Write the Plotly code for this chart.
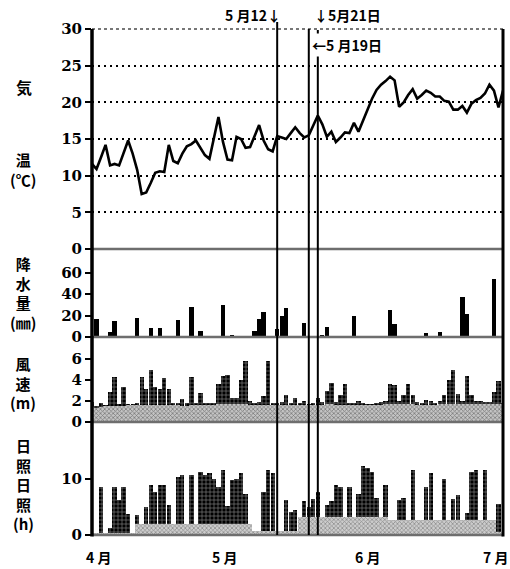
import plotly.graph_objects as go

# ---------------- data (day index: 0 = April 1, 91 = July 1) ----------------
days = list(range(92))

temp_c = [11.6, 10.9, 12.5, 14.2, 11.4, 11.6, 11.4, 13.0, 14.8, 13.0,
          10.8, 7.5, 7.7, 9.0, 10.4, 10.6, 10.5, 14.2, 12.0, 11.7,
          13.0, 14.0, 14.3, 14.8, 13.8, 12.8, 12.3, 15.0, 18.0, 14.6,
          12.2, 12.1, 15.3, 15.0, 13.8, 13.9, 15.5, 16.9, 14.8, 13.6,
          13.3, 15.4, 15.2, 15.0, 15.8, 16.6, 15.8, 15.2, 15.5, 16.8,
          18.2, 17.0, 15.3, 16.0, 14.6, 15.2, 15.9, 15.8, 17.2, 16.0,
          17.5, 19.2, 20.5, 21.7, 22.4, 22.9, 23.5, 23.0, 19.4, 20.0,
          21.0, 21.8, 20.5, 21.0, 21.6, 21.3, 20.8, 20.8, 20.2, 20.1,
          19.0, 19.0, 19.5, 18.6, 19.8, 20.3, 20.6, 21.2, 22.4, 21.6,
          19.3, 21.6]

precip_day = [1, 4, 5, 10, 13, 15, 19, 22, 24, 29, 31, 36, 37, 38, 41, 42, 43,
              47, 51, 52, 58, 66, 67, 74, 77, 82, 83, 89]
precip_mm = [17, 5, 15, 18, 8, 8, 15.5, 28, 6, 30, 2, 5.5, 17, 23, 7, 20, 27,
             13, 2, 9, 20, 25, 12, 4, 5, 37, 21, 54]

wind_ms = [1.9, 1.5, 1.8, 1.6, 2.9, 4.3, 1.7, 3.3, 1.7, 1.7,
           1.8, 4.3, 3.1, 5.0, 3.3, 3.1, 4.2, 3.1, 1.8, 1.8,
           2.2, 1.8, 4.3, 1.8, 2.8, 1.8, 1.8, 1.8, 3.6, 4.4,
           4.5, 2.3, 2.3, 4.0, 5.8, 2.0, 1.8, 1.9, 2.5, 5.8,
           1.8, 1.8, 1.9, 2.6, 1.8, 2.3, 1.8, 2.0, 1.7, 1.8,
           2.3, 1.9, 3.0, 3.7, 1.9, 2.6, 3.6, 1.8, 1.8, 2.0,
           1.8, 1.7, 1.7, 1.8, 1.9, 2.0, 3.6, 3.5, 2.0, 2.6,
           3.6, 2.6, 1.9, 1.8, 2.1, 2.0, 1.8, 2.0, 2.6, 4.0,
           5.0, 2.7, 2.0, 4.4, 2.6, 2.0, 2.0, 1.9, 1.9, 2.9,
           3.9, 1.8]

wind_base = [1.4, 1.3, 1.4, 1.5, 1.5, 1.5, 1.5, 1.5, 1.6, 1.6,
             1.6, 1.6, 1.6, 1.6, 1.6, 1.6, 1.6, 1.6, 1.6, 1.6,
             1.5, 1.5, 1.6, 1.6, 1.6, 1.6, 1.6, 1.6, 1.7, 1.7,
             1.7, 1.7, 1.7, 1.7, 1.7, 1.6, 1.6, 1.6, 1.6, 1.6,
             1.6, 1.6, 1.6, 1.6, 1.6, 1.6, 1.6, 1.6, 1.6, 1.6,
             1.6, 1.6, 1.7, 1.7, 1.6, 1.6, 1.6, 1.6, 1.6, 1.6,
             1.6, 1.6, 1.6, 1.6, 1.6, 1.7, 1.7, 1.7, 1.7, 1.7,
             1.7, 1.7, 1.6, 1.6, 1.6, 1.6, 1.6, 1.7, 1.7, 1.7,
             1.7, 1.7, 1.7, 1.7, 1.7, 1.7, 1.7, 1.7, 1.7, 1.7,
             1.7, 1.7]

sun_day = [2, 4, 5, 6, 7, 8, 10, 12, 13, 14, 15, 16, 17, 19, 20, 22, 24, 25, 26,
           27, 28, 29, 30, 31, 32, 33, 34, 38, 39, 40, 43, 44, 45, 47, 48, 49,
           50, 52, 53, 54, 55, 57, 59, 60, 61, 62, 63, 65, 68, 69, 71, 74, 75,
           78, 80, 81, 83, 84, 85, 87, 88, 90]
sun_h = [8.6, 1.3, 8.6, 6.2, 8.6, 3.7, 3.5, 5.0, 8.9, 7.7, 8.9, 9.0, 5.4, 10.4,
         10.8, 10.8, 11.3, 10.8, 11.0, 10.1, 8.6, 11.6, 5.1, 9.8, 10.1, 11.0,
         7.4, 7.7, 11.6, 11.0, 6.2, 4.2, 4.4, 6.0, 5.0, 6.4, 7.7, 5.4, 6.0, 9.0,
         8.6, 8.6, 7.3, 12.4, 12.0, 11.3, 6.7, 9.0, 6.3, 6.7, 11.6, 8.6, 11.0,
         10.1, 6.4, 7.1, 3.9, 11.3, 11.6, 11.6, 2.1, 5.5]

sun_base = [0.3, 0.3, 0.3, 0.3, 0.3, 0.3, 0.3, 0.3, 0.3, 0.3,
            1.9, 1.9, 1.9, 1.9, 1.9, 1.9, 1.9, 1.9, 1.9, 1.9,
            1.9, 1.9, 1.9, 1.9, 1.9, 1.9, 1.9, 1.9, 1.9, 1.9,
            1.9, 1.9, 1.9, 1.9, 1.9, 1.9, 0.8, 0.8, 0.8, 0.8,
            0.8, 0.8, 0.8, 0.8, 0.8, 0.8, 3.3, 3.3, 3.3, 3.3,
            3.3, 3.3, 3.3, 3.3, 3.3, 3.3, 3.3, 3.3, 3.3, 3.3,
            3.3, 3.3, 3.3, 3.3, 3.3, 3.3, 2.7, 2.7, 2.7, 2.7,
            2.7, 2.7, 2.7, 2.7, 2.7, 2.7, 2.7, 2.7, 2.7, 2.7,
            2.7, 2.7, 2.7, 2.7, 2.7, 2.7, 2.7, 2.7, 2.7, 2.7,
            0.5, 0.5]

month_pos = [0, 30, 61, 91]
month_text = ["4 月", "5 月", "6 月", "7 月"]
month_shift = [6, -3, 0, -8]

event_days = [41, 48, 50]

temp_ticks = [0, 5, 10, 15, 20, 25, 30]
precip_ticks = [0, 20, 40, 60]
wind_ticks = [0, 2, 4, 6]
sun_ticks = [0, 10]

# ---------------- layout geometry ----------------
L, R, T, B = 92, 7, 29, 34
W, H = 510, 569
PW, PH = W - L - R, H - T - B


def py(y):
    return (H - B - y) / PH


def pxx(x):
    return (x - L) / PW


d_temp = [py(249), 1.0]
d_prec = [py(337), py(249)]
d_wind = [py(422), py(337)]
d_sun = [0.0, py(422)]

JP = "Noto Sans CJK JP"
NUM = "DejaVu Serif, serif"

fig = go.Figure()

fig.add_trace(go.Scatter(x=days, y=temp_c, mode="lines",
                         line=dict(color="black", width=2.6),
                         xaxis="x", yaxis="y", showlegend=False,
                         hoverinfo="skip"))

fig.add_trace(go.Bar(x=precip_day, y=precip_mm, width=0.95,
                     marker=dict(color="black", line=dict(width=0)),
                     xaxis="x", yaxis="y2", showlegend=False))

fig.add_trace(go.Bar(x=days, y=wind_ms, width=0.95,
                     marker=dict(color="black", line=dict(width=0),
                                 pattern=dict(shape="+", fgcolor="white",
                                              size=4, solidity=0.3,
                                              fillmode="overlay")),
                     xaxis="x", yaxis="y3", showlegend=False))
fig.add_trace(go.Bar(x=days, y=wind_base, width=1.0,
                     marker=dict(color="#c4c4c4", line=dict(width=0),
                                 pattern=dict(shape="x", fgcolor="#333333",
                                              size=3, solidity=0.45,
                                              fillmode="overlay")),
                     xaxis="x", yaxis="y3", showlegend=False))

fig.add_trace(go.Bar(x=sun_day, y=sun_h, width=0.95,
                     marker=dict(color="black", line=dict(width=0),
                                 pattern=dict(shape="+", fgcolor="white",
                                              size=4, solidity=0.3,
                                              fillmode="overlay")),
                     xaxis="x4", yaxis="y4", showlegend=False))
fig.add_trace(go.Bar(x=days, y=sun_base, width=1.0,
                     marker=dict(color="#cccccc", line=dict(width=0),
                                 pattern=dict(shape="x", fgcolor="#444444",
                                              size=3, solidity=0.4,
                                              fillmode="overlay")),
                     xaxis="x4", yaxis="y4", showlegend=False))

yax_common = dict(ticks="outside", ticklen=6, tickwidth=1.5, tickcolor="black",
                  tickfont=dict(family=NUM, size=15, color="black", weight="bold"),
                  showline=False, zeroline=False, fixedrange=True)

xrange = [0, 91]
xax_common = dict(range=xrange, showticklabels=False, showgrid=False,
                  zeroline=False, ticks="", showline=False, fixedrange=True)

fig.update_layout(
    width=W, height=H,
    margin=dict(l=L, r=R, t=T, b=B),
    paper_bgcolor="white", plot_bgcolor="white",
    barmode="overlay", bargap=0,
    showlegend=False,
    xaxis=dict(domain=[0, 1], anchor="y4", **xax_common),
    xaxis4=dict(domain=[0, 1], anchor="y4", matches="x", **xax_common),
    yaxis=dict(domain=d_temp, range=[0, 30], tickvals=temp_ticks, anchor="x",
               showgrid=True, gridcolor="black", gridwidth=1.5,
               griddash="2px,4px", **yax_common),
    yaxis2=dict(domain=d_prec, range=[0, 82], tickvals=precip_ticks, anchor="x",
                showgrid=False, **yax_common),
    yaxis3=dict(domain=d_wind, range=[0, 8.1], tickvals=wind_ticks, anchor="x",
                showgrid=False, **yax_common),
    yaxis4=dict(domain=d_sun, range=[0, 20.2], tickvals=sun_ticks, anchor="x4",
                showgrid=False, **yax_common),
)

shapes = []
# panel separators and frame
for yb in [d_temp[0], d_prec[0], d_wind[0], 0.0]:
    shapes.append(dict(type="line", xref="paper", yref="paper", x0=0, x1=1,
                       y0=yb, y1=yb, line=dict(color="#6e6e6e", width=2.5),
                       layer="above"))
shapes.append(dict(type="line", xref="paper", yref="paper", x0=0, x1=1,
                   y0=1, y1=1, line=dict(color="#777777", width=2, dash="dot"),
                   layer="above"))
shapes.append(dict(type="line", xref="paper", yref="paper", x0=0, x1=0,
                   y0=-0.003, y1=1.0, line=dict(color="black", width=3.5),
                   layer="above"))
shapes.append(dict(type="line", xref="paper", yref="paper", x0=1, x1=1,
                   y0=-0.003, y1=1.0, line=dict(color="black", width=3),
                   layer="above"))
# event lines
for ed, top in zip(event_days, [py(22), py(29), py(30)]):
    shapes.append(dict(type="line", xref="x", yref="paper", x0=ed, x1=ed,
                       y0=0, y1=top, line=dict(color="black", width=2),
                       layer="above"))
fig.update_layout(shapes=shapes)

ann = []
# month labels
for mp, mt, ms in zip(month_pos, month_text, month_shift):
    ann.append(dict(x=mp, y=py(557), xref="x", yref="paper", text=mt,
                    showarrow=False, xshift=ms, xanchor="center", yanchor="middle",
                    font=dict(family=JP, size=14, color="black", weight="bold")))


def side(text, x, y, size=15):
    ann.append(dict(x=pxx(x), y=py(y), xref="paper", yref="paper", text=text,
                    showarrow=False, xanchor="center", yanchor="middle",
                    align="center",
                    font=dict(family=JP, size=size, color="black", weight="bold")))


side("気", 24, 87, 16)
side("温<br>(℃)", 23, 170, 15)
side("降<br>水<br>量<br>(㎜)", 23, 293, 15)
side("風<br>速<br>(m)", 23, 383, 15)
side("日<br>照<br>日<br>照<br>(h)", 23, 484, 15)

# event annotations
ann.append(dict(x=pxx(283), y=py(15), xref="paper", yref="paper",
                text="5 月12↓", showarrow=False, xanchor="right", yanchor="middle",
                font=dict(family=JP, size=14, color="black", weight="bold")))
ann.append(dict(x=pxx(312), y=py(15), xref="paper", yref="paper",
                text="↓5月21日", showarrow=False, xanchor="left", yanchor="middle",
                font=dict(family=JP, size=14, color="black", weight="bold")))
ann.append(dict(x=pxx(310), y=py(45), xref="paper", yref="paper",
                text="←5 月19日", showarrow=False, xanchor="left", yanchor="middle",
                bgcolor="white",
                font=dict(family=JP, size=14, color="black", weight="bold")))

fig.update_layout(annotations=ann)

fig.write_html("out.html",
               config={"displayModeBar": False},
               post_script="document.body.style.margin='0px';"
                           "document.body.style.overflow='hidden';")
